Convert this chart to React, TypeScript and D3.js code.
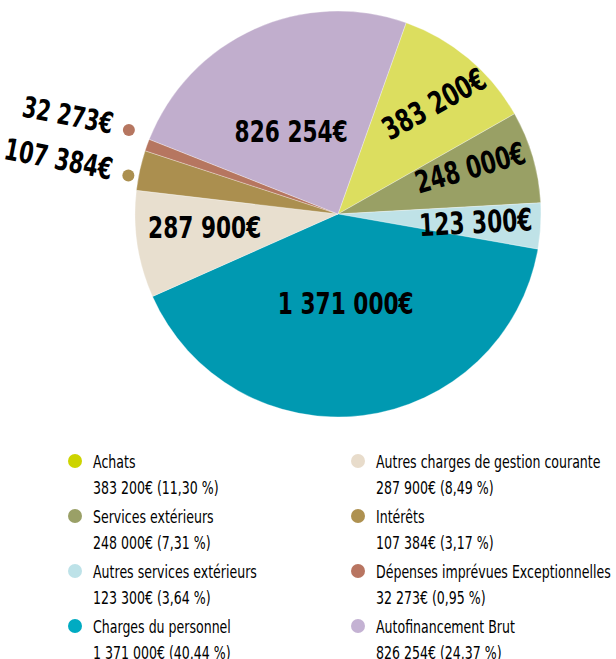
import React from "react";
import * as d3 from "d3";

const categories = [
  "Achats",
  "Services extérieurs",
  "Autres services extérieurs",
  "Charges du personnel",
  "Autres charges de gestion courante",
  "Intérêts",
  "Dépenses imprévues Exceptionnelles",
  "Autofinancement Brut",
];
const values = [383200, 248000, 123300, 1371000, 287900, 107384, 32273, 826254];
const valueLabels = ["383 200€", "248 000€", "123 300€", "1 371 000€", "287 900€", "107 384€", "32 273€", "826 254€"];
const percentLabels = ["11,30 %", "7,31 %", "3,64 %", "40,44 %", "8,49 %", "3,17 %", "0,95 %", "24,37 %"];
const sliceColors = ["#dcde5f", "#99a065", "#bfe2e7", "#0099b1", "#e8dfcf", "#ab8f4f", "#b67660", "#c1aecd"];
const legendColors = ["#cdd400", "#9aa067", "#bde2e8", "#00abc2", "#e8dccb", "#ae9150", "#b87561", "#c4b2d3"];

// label layout: [radius factor, angle offset (deg), rotation (deg), outside?]
const labelLayout: [number, number, number, boolean][] = [
  [0.72, 1, -29, false],
  [0.69, -3, -16, false],
  [0.68, 0, -3, false],
  [0.44, 2, 0, false],
  [0.66, 3, 0, false],
  [1.05, -2, 11, true],
  [1.11, 2, 11, true],
  [0.47, -5, 0, false],
];

const W = 616;
const H = 659;
const cx = 338;
const cy = 214;
const R = 203;
const FONT = "'DejaVu Sans', sans-serif";
const SX_BIG = 0.7;
const SX_LEG = 0.74;

export default function App() {
  const start = (19.6 * Math.PI) / 180;
  const pie = d3
    .pie<number>()
    .sort(null)
    .startAngle(start)
    .endAngle(start + 2 * Math.PI)
    .value((d) => d);
  const arcs = pie(values);
  const arc = d3.arc<d3.PieArcDatum<number>>().innerRadius(0).outerRadius(R);

  const polar = (ang: number, r: number) => [Math.sin(ang) * r, -Math.cos(ang) * r];

  return (
    <svg width={W} height={H} style={{ position: "absolute", left: 0, top: 0, display: "block" }} fontFamily={FONT}>
      <g transform={`translate(${cx},${cy})`}>
        {arcs.map((a, i) => (
          <path key={i} d={arc(a) as string} fill={sliceColors[i]} stroke="#ffffff" strokeWidth={0.5} strokeOpacity={0.6} />
        ))}
        {arcs.map((a, i) => {
          const [rf, off, rot, outside] = labelLayout[i];
          const mid = (a.startAngle + a.endAngle) / 2 + (off * Math.PI) / 180;
          const [px, py] = polar(mid, rf * R);
          if (outside) {
            return (
              <g key={i}>
                <circle cx={px} cy={py} r={6} fill={sliceColors[i]} />
                <text
                  x={0}
                  y={0}
                  transform={`translate(${px - 16},${py - 6}) rotate(${rot}) scale(${SX_BIG},1)`}
                  textAnchor="end"
                  dominantBaseline="central"
                  fontWeight="bold"
                  fontSize={i === 6 ? 29 : 30}
                  fill="#000"
                >
                  {valueLabels[i]}
                </text>
              </g>
            );
          }
          return (
            <text
              key={i}
              transform={`translate(${px},${py}) rotate(${rot}) scale(${SX_BIG},1)`}
              textAnchor="middle"
              dominantBaseline="central"
              fontWeight="bold"
              fontSize={31}
              fill="#000"
            >
              {valueLabels[i]}
            </text>
          );
        })}
      </g>
      <g>
        {categories.map((c, i) => {
          const col = Math.floor(i / 4);
          const row = i % 4;
          const x = col === 0 ? 75 : 358;
          const y = 461 + row * 55;
          return (
            <g key={c}>
              <circle cx={x} cy={y} r={7} fill={legendColors[i]} />
              <g transform={`translate(${x + 18},${y}) scale(${SX_LEG},1)`}>
                <text x={0} y={7} fontSize={17} fill="#000">
                  {c}
                </text>
                <text x={0} y={33} fontSize={17} fill="#000">
                  {`${valueLabels[i]} (${percentLabels[i]})`}
                </text>
              </g>
            </g>
          );
        })}
      </g>
    </svg>
  );
}
